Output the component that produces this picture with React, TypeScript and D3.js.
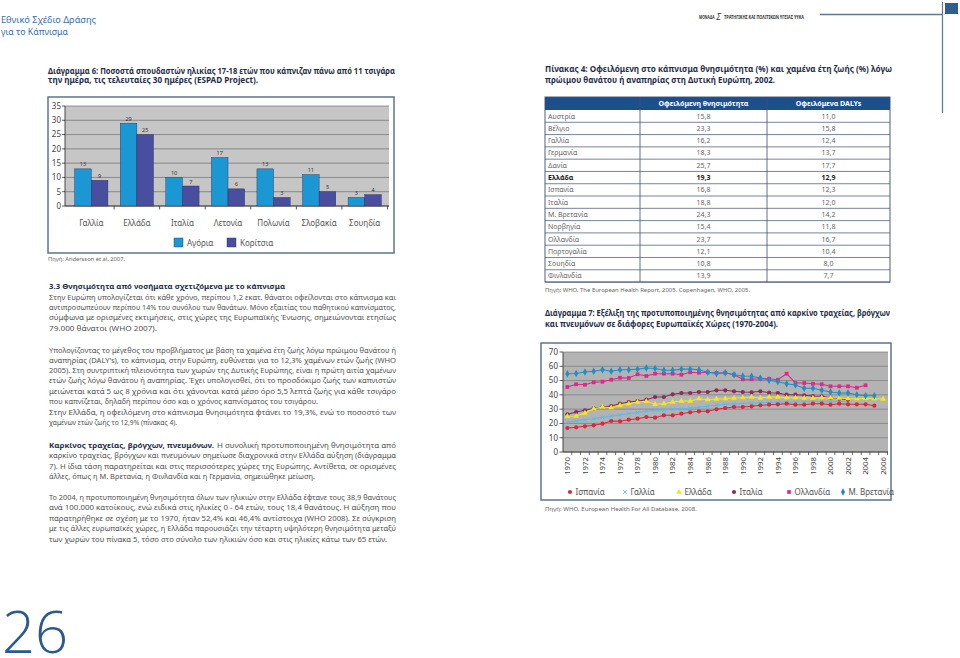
import React from "react";
import * as d3 from "d3";

// ---------- Bar chart (Διάγραμμα 6) ----------
const barCategories = ["Γαλλία", "Ελλάδα", "Ιταλία", "Λετονία", "Πολωνία", "Σλοβακία", "Σουηδία"];
const barSeries = ["Αγόρια", "Κορίτσια"];
const boys = [13, 29, 10, 17, 13, 11, 3];
const girls = [9, 25, 7, 6, 3, 5, 4];
const barTicks = [0, 5, 10, 15, 20, 25, 30, 35];

// ---------- Table (Πίνακας 4) ----------
const tableCountries = ["Αυστρία", "Βέλγιο", "Γαλλία", "Γερμανία", "Δανία", "Ελλάδα", "Ισπανία", "Ιταλία", "Μ. Βρετανία", "Νορβηγία", "Ολλανδία", "Πορτογαλία", "Σουηδία", "Φινλανδία"];
const tableMortality = [15.8, 23.3, 16.2, 18.3, 25.7, 19.3, 16.8, 18.8, 24.3, 15.4, 23.7, 12.1, 10.8, 13.9];
const tableDalys = [11.0, 15.8, 12.4, 13.7, 17.7, 12.9, 12.3, 12.0, 14.2, 11.8, 16.7, 10.4, 8.0, 7.7];
const tableHeaders = ["Οφειλόμενη θνησιμότητα", "Οφειλόμενα DALYs"];

// ---------- Line chart (Διάγραμμα 7) ----------
const years = [1970, 1971, 1972, 1973, 1974, 1975, 1976, 1977, 1978, 1979, 1980, 1981, 1982, 1983, 1984, 1985, 1986, 1987, 1988, 1989, 1990, 1991, 1992, 1993, 1994, 1995, 1996, 1997, 1998, 1999, 2000, 2001, 2002, 2003, 2004, 2005, 2006];
const yearLabels = [1970, 1972, 1974, 1976, 1978, 1980, 1982, 1984, 1986, 1988, 1990, 1992, 1994, 1996, 1998, 2000, 2002, 2004, 2006];
const lineTicks = [0, 10, 20, 30, 40, 50, 60, 70];
const spain = [16.8, 17.3, 18, 18.7, 19.8, 21.7, 21.5, 22.6, 23.3, 24.5, 24, 25.7, 25.7, 26.8, 27.8, 28.5, 28.5, 29.9, 30.8, 31.5, 31.5, 32, 32.7, 33.1, 33.4, 33.8, 33.1, 33.1, 33.8, 33.8, 33.1, 33.8, 33.4, 33.4, 33.4, 32.4, null];
const france = [21, 21.8, 22.7, 23.3, 24.3, 25.2, 26, 26.9, 27.6, 28.5, 29.2, 29.5, 30, 30.2, 30.7, 31.3, 32, 32.8, 33.4, 33.7, 34, 34.2, 34.5, 34.6, 34.8, 35, 35, 35.2, 35.4, 35.4, 35.5, 35.3, 35.2, null, null, null, null];
const greece = [25, 25.2, 27.3, 30.3, 31.5, 31, 32.7, 33.8, 35, 35.5, 33.4, 33.8, 35, 35.7, 35.7, 37.3, 36.6, 37.1, 37.3, 37.8, 38, 38.5, 37.8, 38.5, 38.5, 38, 38, 37.8, 37.8, 38, 38, 37.8, 37.3, 37.3, 37.6, 37.3, 37.1];
const italy = [26.4, 28, 29.2, 30.6, 31.5, 32.2, 33.8, 35, 35.7, 36.6, 38.5, 38.5, 40.4, 41.3, 41.3, 42, 42, 43.2, 43.2, 42.5, 42, 41.8, 42.5, 41.5, 41.3, 40.1, 40.1, 39.7, 39.2, 39, 38, 37.3, 36.6, null, null, null, null];
const netherlands = [45.5, 47.4, 47.1, 48.8, 49.2, 50.6, 52, 51.8, 54.4, 53.2, 54.8, 54.8, 54.8, 54.1, 55.8, 55.5, 55.8, 55.3, 55.5, 54.1, 50.9, 50.9, 51.3, 51.3, 50.6, 54.8, 48.3, 48.3, 47.8, 47.4, 46, 46, 46, 45, 46.7, null, null];
const britain = [54.8, 55, 56, 56.5, 57.6, 56.5, 57.6, 57.6, 58, 58.8, 58.5, 57.2, 57.2, 58, 58, 57.6, 55.8, 55, 55.5, 54.1, 53.2, 53, 51.8, 50.2, 49.2, 47.8, 46.9, 44.6, 44.6, 43.2, 42, 41.3, 41.3, 40.1, 39.4, 39.4, null];
const lineNames = ["Ισπανία", "Γαλλία", "Ελλάδα", "Ιταλία", "Ολλανδία", "Μ. Βρετανία"];
const lineValues = [spain, france, greece, italy, netherlands, britain];

// ---------- text ----------
type Line = { t: string; y: number; x1?: number; x2: number; b?: boolean };
const bodyLines: Line[] = [
  { t: "3.3 Θνησιμότητα από νοσήματα σχετιζόμενα με το κάπνισμα", y: 289, x2: 285, b: true },
  { t: "Στην Ευρώπη υπολογίζεται ότι κάθε χρόνο, περίπου 1,2 εκατ. θάνατοι οφείλονται στο κάπνισμα και", y: 299.5, x2: 396 },
  { t: "αντιπροσωπεύουν περίπου 14% του συνόλου των θανάτων. Μόνο εξαιτίας του παθητικού καπνίσματος,", y: 310, x2: 396 },
  { t: "σύμφωνα με ορισμένες εκτιμήσεις, στις χώρες της Ευρωπαϊκής Ένωσης, σημειώνονται ετησίως", y: 320.3, x2: 396 },
  { t: "79.000 θάνατοι (WHO 2007).", y: 330.5, x2: 157 },
  { t: "Υπολογίζοντας το μέγεθος του προβλήματος με βάση τα χαμένα έτη ζωής λόγω πρώιμου θανάτου ή", y: 353, x2: 396 },
  { t: "αναπηρίας (DALY's), το κάπνισμα, στην Ευρώπη, ευθύνεται για το 12,3% χαμένων ετών ζωής (WHO", y: 363, x2: 396 },
  { t: "2005). Στη συντριπτική πλειονότητα των χωρών της Δυτικής Ευρώπης, είναι η πρώτη αιτία χαμένων", y: 373.2, x2: 396 },
  { t: "ετών ζωής λόγω θανάτου ή αναπηρίας. Έχει υπολογισθεί, ότι το προσδόκιμο ζωής των καπνιστών", y: 383.4, x2: 396 },
  { t: "μειώνεται κατά 5 ως 8 χρόνια και ότι χάνονται κατά μέσο όρο 5,5 λεπτά ζωής για κάθε τσιγάρο", y: 393.7, x2: 396 },
  { t: "που καπνίζεται, δηλαδή περίπου όσο και ο χρόνος καπνίσματος του τσιγάρου.", y: 403.8, x2: 318 },
  { t: "Στην Ελλάδα, η οφειλόμενη στο κάπνισμα θνησιμότητα φτάνει το 19,3%, ενώ το ποσοστό των", y: 414.7, x2: 396 },
  { t: "χαμένων ετών ζωής το 12,9% (πίνακας 4).", y: 424.8, x2: 177 },
  { t: "Καρκίνος τραχείας, βρόγχων, πνευμόνων.", y: 448, x2: 214, b: true },
  { t: "Η συνολική προτυποποιημένη θνησιμότητα από", y: 448, x1: 217, x2: 396 },
  { t: "καρκίνο τραχείας, βρόγχων και πνευμόνων σημείωσε διαχρονικά στην Ελλάδα αύξηση (διάγραμμα", y: 458.3, x2: 396 },
  { t: "7). Η ίδια τάση παρατηρείται και στις περισσότερες χώρες της Ευρώπης. Αντίθετα, σε ορισμένες", y: 468.8, x2: 396 },
  { t: "άλλες, όπως η Μ. Βρετανία, η Φινλανδία και η Γερμανία, σημειώθηκε μείωση.", y: 479, x2: 315 },
  { t: "Το 2004, η προτυποποιημένη θνησιμότητα όλων των ηλικιών στην Ελλάδα έφτανε τους 38,9 θανάτους", y: 500, x2: 396 },
  { t: "ανά 100.000 κατοίκους, ενώ ειδικά στις ηλικίες 0 - 64 ετών, τους 18,4 θανάτους. Η αύξηση που", y: 510.2, x2: 396 },
  { t: "παρατηρήθηκε σε σχέση με το 1970, ήταν 52,4% και 46,4% αντίστοιχα (WHO 2008). Σε σύγκριση", y: 520.6, x2: 396 },
  { t: "με τις άλλες ευρωπαϊκές χώρες, η Ελλάδα παρουσιάζει την τέταρτη υψηλότερη θνησιμότητα μεταξύ", y: 531, x2: 396 },
  { t: "των χωρών του πίνακα 5, τόσο στο σύνολο των ηλικιών όσο και στις ηλικίες κάτω των 65 ετών.", y: 541.6, x2: 387 },
];

const FONT = "'Noto Sans', 'DejaVu Sans', sans-serif";
const NAVY = "#1f2d48";
const BODY = "#505050";

function TLine({ l, x1 = 49, size = 7.6, fill = BODY }: { l: Line; x1?: number; size?: number; fill?: string }) {
  const start = l.x1 ?? x1;
  return (
    <text x={start} y={l.y} fontSize={size} fontWeight={l.b ? 700 : 400} fill={l.b ? NAVY : fill}
      textLength={l.x2 - start} lengthAdjust="spacingAndGlyphs">{l.t}</text>
  );
}

const fmt = (v: number) => d3.format(".1f")(v).replace(".", ",");

export default function App() {
  // ---- bar chart scales ----
  const bx = d3.scaleBand().domain(barCategories).range([68.5, 387.5]).paddingInner(0.27).paddingOuter(0.135);
  const bsub = d3.scaleBand().domain(barSeries).range([0, bx.bandwidth()]);
  const by = d3.scaleLinear().domain([0, 35]).range([206, 106]);
  const barColors = ["#1b97d3", "#4a4e9e"];
  const barData = [boys, girls];

  // ---- line chart scales ----
  const lx = d3.scaleBand<number>().domain(years).range([563, 887.5]);
  const ly = d3.scaleLinear().domain([0, 70]).range([452, 352]);
  const lineColors = ["#d9283b", "#5cb9e8", "#f3e81c", "#8c2c55", "#e0278d", "#1f8fc8"];
  const symTimes = (d3 as any).symbolTimes || (d3 as any).symbolX || d3.symbolCross;
  const symbols = [d3.symbolCircle, symTimes, d3.symbolTriangle, d3.symbolCircle, d3.symbolSquare, d3.symbolDiamond];
  const symSizes = [14, 12, 14, 14, 14, 16];
  const cx = (i: number) => (lx(years[i]) as number) + lx.bandwidth() / 2;
  const lineGen = d3.line<number | null>()
    .defined((d) => d != null)
    .x((_, i) => cx(i))
    .y((d) => ly(d as number));
  const drawOrder = [1, 0, 3, 2, 4, 5];
  const legendMarkerX = [570, 625, 679, 734, 789, 843];

  // ---- table ----
  const tLeft = 545, tRight = 890, c1 = 640, c2 = 767;
  const tTop = 97, hH = 13, rowH = 12.29;
  const tBottom = tTop + hH + rowH * tableCountries.length;

  return (
    <svg width={960} height={658} style={{ position: "absolute", left: 0, top: 0, background: "#fff" }} fontFamily={FONT}>
      {/* page header */}
      <text x={1} y={23} fontSize={9.6} fill="#3a6cab" textLength={95} lengthAdjust="spacingAndGlyphs">Εθνικό Σχέδιο Δράσης</text>
      <text x={1} y={34.5} fontSize={9.6} fill="#3a6cab" textLength={67} lengthAdjust="spacingAndGlyphs">για το Κάπνισμα</text>
      <text x={699} y={19} fontSize={4.6} fontWeight={700} fill="#333" textLength={15.5} lengthAdjust="spacingAndGlyphs">ΜΟΝΑΔΑ</text>
      <text x={716.5} y={19.5} fontSize={8.5} fontStyle="italic" fill="#333">Σ</text>
      <text x={724} y={19} fontSize={4.6} fontWeight={700} fill="#333" textLength={80} lengthAdjust="spacingAndGlyphs">ΤΡΑΤΗΓΙΚΗΣ ΚΑΙ ΠΟΛΙΤΙΚΩΝ ΥΓΕΙΑΣ ΥΥΚΑ</text>
      <line x1={820} x2={942} y1={14.5} y2={14.5} stroke="#5f7890" strokeWidth={1.5} />
      <line x1={942.5} x2={942.5} y1={2} y2={113} stroke="#5f7890" strokeWidth={1.2} />
      <rect x={945} y={3} width={13} height={11} fill="#2f5d8e" />
      <text x={2} y={653} fontSize={58} fontWeight={300} fill="#2c5a8a" fontFamily="'Open Sans', 'Noto Sans', sans-serif">26</text>

      {/* Διάγραμμα 6 title */}
      <TLine l={{ t: "Διάγραμμα 6: Ποσοστά σπουδαστών ηλικίας 17-18 ετών που κάπνιζαν πάνω από 11 τσιγάρα", y: 73.5, x1: 48, x2: 395, b: true }} size={8.3} />
      <TLine l={{ t: "την ημέρα, τις τελευταίες 30 ημέρες (ESPAD Project).", y: 83.3, x1: 48, x2: 258, b: true }} size={8.3} />

      {/* Bar chart box */}
      <rect x={48} y={97} width={346} height={156} fill="#fff" stroke="#5b7490" strokeWidth={1.5} />
      <rect x={65} y={106} width={324} height={100} fill="#c6c6c6" />
      {barTicks.map((t) => (
        <g key={t}>
          <line x1={65} x2={389} y1={by(t)} y2={by(t)} stroke="#6e6e6e" strokeWidth={0.7} />
          <line x1={62} x2={65} y1={by(t)} y2={by(t)} stroke="#333" strokeWidth={0.8} />
          <text x={61} y={by(t) + 2.8} fontSize={8} fill="#444" textAnchor="end">{t}</text>
        </g>
      ))}
      <line x1={65} x2={65} y1={106} y2={206} stroke="#333" strokeWidth={0.9} />
      <line x1={65} x2={389} y1={206} y2={206} stroke="#333" strokeWidth={0.9} />
      {barCategories.map((c) => {
        const xb = (bx(c) as number) - bx.step() * bx.paddingInner() / 2 + bx.step();
        return <line key={"bt" + c} x1={xb} x2={xb} y1={206} y2={209.5} stroke="#333" strokeWidth={0.8} />;
      })}
      {barCategories.map((c, i) => (
        <g key={c}>
          {barSeries.map((s, j) => {
            const v = barData[j][i];
            const x = (bx(c) as number) + (bsub(s) as number);
            return (
              <g key={s}>
                <rect x={x} y={by(v)} width={bsub.bandwidth()} height={206 - by(v)} fill={barColors[j]} stroke="#2b2b55" strokeWidth={0.4} />
                <text x={x + bsub.bandwidth() / 2} y={by(v) - 2.5} fontSize={5.5} fill="#333" textAnchor="middle">{v}</text>
              </g>
            );
          })}
          <text x={(bx(c) as number) + bx.bandwidth() / 2} y={226} fontSize={8} fill="#555" textAnchor="middle">{c}</text>
        </g>
      ))}
      {barSeries.map((s, j) => (
        <g key={"lg" + s}>
          <rect x={[174, 227][j]} y={238} width={9} height={9} fill={barColors[j]} stroke="#2b2b55" strokeWidth={0.4} />
          <text x={[187, 240][j]} y={245.5} fontSize={8} fill="#555">{s}</text>
        </g>
      ))}
      <text x={48} y={260.5} fontSize={5.5} fill="#666" textLength={77} lengthAdjust="spacingAndGlyphs">Πηγή: Andersson et al. 2007.</text>

      {/* body text */}
      {bodyLines.map((l, i) => <TLine key={i} l={l} />)}

      {/* Πίνακας 4 title */}
      <TLine l={{ t: "Πίνακας 4: Οφειλόμενη στο κάπνισμα θνησιμότητα (%) και χαμένα έτη ζωής (%) λόγω", y: 71.5, x1: 545, x2: 892, b: true }} size={8.8} />
      <TLine l={{ t: "πρώιμου θανάτου ή αναπηρίας στη Δυτική Ευρώπη, 2002.", y: 82.5, x1: 545, x2: 775, b: true }} size={8.8} />

      {/* table */}
      <rect x={tLeft} y={tTop} width={tRight - tLeft} height={hH} fill="#1e4f8d" />
      {tableHeaders.map((h, i) => (
        <text key={h} x={i === 0 ? (c1 + c2) / 2 : (c2 + tRight) / 2} y={tTop + 9} fontSize={7} fontWeight={700} fill="#fff" textAnchor="middle">{h}</text>
      ))}
      {tableCountries.map((c, i) => {
        const y0 = tTop + hH + i * rowH;
        const bold = c === "Ελλάδα";
        return (
          <g key={c}>
            <line x1={tLeft} x2={tRight} y1={y0 + rowH} y2={y0 + rowH} stroke="#3d4f6e" strokeWidth={0.7} />
            <text x={tLeft + 3} y={y0 + 8.6} fontSize={7} fontWeight={bold ? 700 : 400} fill={bold ? "#222" : "#666"}>{c}</text>
            <text x={(c1 + c2) / 2} y={y0 + 8.6} fontSize={7} fontWeight={bold ? 700 : 400} fill={bold ? "#222" : "#666"} textAnchor="middle">{fmt(tableMortality[i])}</text>
            <text x={(c2 + tRight) / 2} y={y0 + 8.6} fontSize={7} fontWeight={bold ? 700 : 400} fill={bold ? "#222" : "#666"} textAnchor="middle">{fmt(tableDalys[i])}</text>
          </g>
        );
      })}
      <line x1={c1} x2={c1} y1={tTop} y2={tBottom} stroke="#3d4f6e" strokeWidth={0.8} />
      <line x1={c2} x2={c2} y1={tTop} y2={tBottom} stroke="#3d4f6e" strokeWidth={0.8} />
      <rect x={tLeft} y={tTop} width={tRight - tLeft} height={tBottom - tTop} fill="none" stroke="#3d4f6e" strokeWidth={0.9} />
      <text x={545} y={292} fontSize={5.5} fill="#666" textLength={205} lengthAdjust="spacingAndGlyphs">Πηγή: WHO. The European Health Report, 2005. Copenhagen, WHO, 2005.</text>

      {/* Διάγραμμα 7 title */}
      <TLine l={{ t: "Διάγραμμα 7: Εξέλιξη της προτυποποιημένης θνησιμότητας από καρκίνο τραχείας, βρόγχων", y: 316, x1: 545, x2: 890, b: true }} size={8.6} />
      <TLine l={{ t: "και πνευμόνων σε διάφορες Ευρωπαϊκές Χώρες (1970-2004).", y: 326.5, x1: 545, x2: 778, b: true }} size={8.6} />

      {/* Line chart */}
      <rect x={541} y={343} width={350} height={157} fill="#fff" stroke="#5b7490" strokeWidth={1.5} />
      <rect x={563} y={352} width={325} height={100} fill="#b3b3b3" />
      {lineTicks.map((t) => (
        <g key={t}>
          <line x1={563} x2={888} y1={ly(t)} y2={ly(t)} stroke="#7a7a7a" strokeWidth={0.7} />
          <line x1={559.5} x2={563} y1={ly(t)} y2={ly(t)} stroke="#333" strokeWidth={0.8} />
          <text x={558} y={ly(t) + 2.8} fontSize={8} fill="#444" textAnchor="end">{t}</text>
        </g>
      ))}
      <line x1={563} x2={563} y1={352} y2={452} stroke="#333" strokeWidth={0.9} />
      <line x1={563} x2={888} y1={452} y2={452} stroke="#333" strokeWidth={0.9} />
      {years.map((yr) => (
        <line key={"t" + yr} x1={(lx(yr) as number) + lx.bandwidth()} x2={(lx(yr) as number) + lx.bandwidth()} y1={452} y2={455} stroke="#333" strokeWidth={0.7} />
      ))}
      {yearLabels.map((yr) => {
        const x = (lx(yr) as number) + lx.bandwidth() / 2;
        return (
          <text key={"yl" + yr} transform={`translate(${x + 2.8},457) rotate(-90)`} fontSize={7.8} fill="#444" textAnchor="end">{yr}</text>
        );
      })}
      {drawOrder.map((k) => (
        <g key={"s" + k}>
          <path d={lineGen(lineValues[k]) || ""} fill="none" stroke={lineColors[k]} strokeWidth={1.1} />
          {lineValues[k].map((v, i) => v == null ? null : (
            <path key={i} transform={`translate(${cx(i)},${ly(v)})`}
              d={d3.symbol().type(symbols[k]).size(symSizes[k])() || ""}
              fill={k === 1 ? "none" : lineColors[k]} stroke={lineColors[k]} strokeWidth={k === 1 ? 0.9 : 0} />
          ))}
        </g>
      ))}
      {lineNames.map((n, k) => (
        <g key={"ll" + n}>
          <path transform={`translate(${legendMarkerX[k]},492)`} d={d3.symbol().type(symbols[k]).size(symSizes[k])() || ""}
            fill={k === 1 ? "none" : lineColors[k]} stroke={lineColors[k]} strokeWidth={k === 1 ? 0.9 : 0} />
          <text x={legendMarkerX[k] + 5.5} y={494.8} fontSize={8} fill="#555">{n}</text>
        </g>
      ))}
      <text x={545} y={511} fontSize={5.5} fill="#666" textLength={152} lengthAdjust="spacingAndGlyphs">Πηγή: WHO, European Health For All Database, 2008.</text>
    </svg>
  );
}
